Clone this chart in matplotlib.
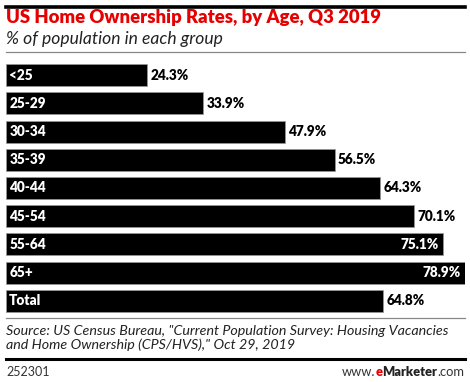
import matplotlib
matplotlib.use("Agg")
import matplotlib.pyplot as plt
from matplotlib.lines import Line2D
import matplotlib.offsetbox as ob

categories = ["<25", "25-29", "30-34", "35-39", "40-44", "45-54", "55-64", "65+", "Total"]
values = [24.3, 33.9, 47.9, 56.5, 64.3, 70.1, 75.1, 78.9, 64.8]

W, H = 470, 382
fig = plt.figure(figsize=(W / 100, H / 100), dpi=100)
FONT = "Lato"

def fx(px):
    return px / W

def fy(py):
    return 1 - py / H

# Top thick rule
fig.add_artist(Line2D([fx(6), fx(465)], [fy(7), fy(7)], color="black", lw=2.6, transform=fig.transFigure))
fig.text(fx(6), fy(17), "US Home Ownership Rates, by Age, Q3 2019", color="#e60000",
         fontsize=13.3, fontweight="heavy", family=FONT, va="center", ha="left")
fig.text(fx(6), fy(39), "% of population in each group", color="#222222",
         fontsize=12.6, style="italic", family=FONT, va="center", ha="left")
fig.add_artist(Line2D([fx(6), fx(465)], [fy(52), fy(52)], color="#888888", lw=0.9, transform=fig.transFigure))

ax = fig.add_axes([fx(6), fy(315), fx(465) - fx(6), 254 / H])
y = list(range(len(categories)))
ax.barh(y, values, height=0.78, color="black", edgecolor="#999999", linewidth=0.5)
ax.set_xlim(0, 78.9)
ax.set_ylim(len(categories) - 0.5, -0.5)
ax.axis("off")

for i, (c, v) in enumerate(zip(categories, values)):
    ax.text(0.55, i, c, color="white", fontweight="heavy", fontsize=9.8, family=FONT,
            va="center", ha="left")
    lab = f"{v:.1f}%"
    if v > 72:
        ax.text(v - 0.7, i, lab, color="white", fontweight="heavy", fontsize=9.8, family=FONT,
                va="center", ha="right")
    else:
        ax.text(v + 0.55, i, lab, color="black", fontweight="heavy", fontsize=9.8, family=FONT,
                va="center", ha="left")

fig.add_artist(Line2D([fx(6), fx(465)], [fy(318), fy(318)], color="#888888", lw=0.9, transform=fig.transFigure))
fig.text(fx(6), fy(331), 'Source: US Census Bureau, "Current Population Survey: Housing Vacancies',
         color="#222222", fontsize=10.25, style="italic", family=FONT, va="center", ha="left")
fig.text(fx(6), fy(345), 'and Home Ownership (CPS/HVS)," Oct 29, 2019',
         color="#222222", fontsize=10.25, style="italic", family=FONT, va="center", ha="left")
fig.add_artist(Line2D([fx(6), fx(465)], [fy(359), fy(359)], color="black", lw=2.2, transform=fig.transFigure))
fig.text(fx(6), fy(372), "252301", color="#333333", fontsize=9, family=FONT, va="center", ha="left")

parts = [("www.", "#333333", "normal"), ("e", "#e60000", "heavy"), ("Marketer", "#222222", "heavy"), (".com", "#333333", "normal")]
areas = [ob.TextArea(s, textprops=dict(color=c, fontweight=w, fontsize=9.3, family=FONT)) for s, c, w in parts]
box = ob.HPacker(children=areas, align="baseline", pad=0, sep=0)
anch = ob.AnchoredOffsetbox(loc="center right", child=box, pad=0, frameon=False,
                            bbox_to_anchor=(fx(464), fy(372)), bbox_transform=fig.transFigure, borderpad=0)
fig.add_artist(anch)

fig.savefig("out.png", dpi=100)
